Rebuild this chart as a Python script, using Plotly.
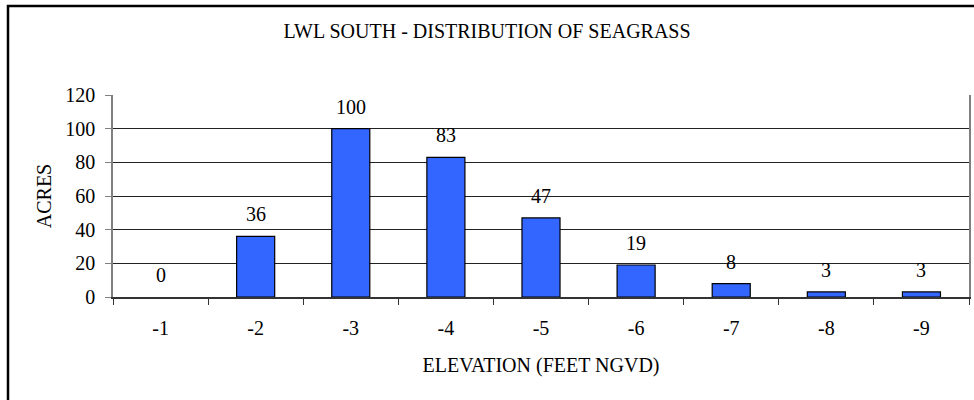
import plotly.graph_objects as go

# Seagrass acreage by elevation band
elevations = ["-1", "-2", "-3", "-4", "-5", "-6", "-7", "-8", "-9"]
acres = [0, 36, 100, 83, 47, 19, 8, 3, 3]
y_ticks = [0, 20, 40, 60, 80, 100, 120]

SERIF = "Liberation Serif, Times New Roman, serif"
FS = 20

fig = go.Figure()
fig.add_trace(go.Bar(
    x=elevations,
    y=acres,
    marker=dict(color="#3366FF",
                line=dict(color="black", width=[0 if v == 0 else 1.2 for v in acres])),
    width=0.4,
    showlegend=False,
))

# value labels sit a little above each bar, as in the Excel original
# (category axis -> annotation x given as the category index)
for i, v in enumerate(acres):
    fig.add_annotation(x=i, y=v, text=str(v), showarrow=False,
                       yanchor="bottom", yshift=9,
                       font=dict(family=SERIF, size=FS, color="black"))

fig.update_layout(
    width=974, height=400,
    margin=dict(l=113, r=5, t=95, b=103, autoexpand=False),
    paper_bgcolor="white", plot_bgcolor="white",
    font=dict(family=SERIF, size=FS, color="black"),
    title=dict(text="LWL SOUTH - DISTRIBUTION OF SEAGRASS",
               x=0.5, xref="container", xanchor="center",
               y=1 - 31 / 400, yref="container", yanchor="middle",
               font=dict(family=SERIF, size=FS)),
)

fig.update_xaxes(
    type="category", categoryorder="array", categoryarray=elevations,
    automargin=False,
    tickson="boundaries", ticks="outside", ticklen=6, tickcolor="#333",
    showline=True, linecolor="#333", linewidth=1.5,
    showgrid=False,
    tickfont=dict(family=SERIF, size=FS),
    title=dict(text="ELEVATION (FEET NGVD)", standoff=20,
               font=dict(family=SERIF, size=FS)),
    ticklabelstandoff=12,
)
fig.update_yaxes(
    range=[0, 120], tickvals=y_ticks, automargin=False,
    ticks="outside", ticklen=6, tickcolor="#808080",
    showline=True, linecolor="#808080", linewidth=1.5, mirror=True,
    showgrid=True, gridcolor="#222", gridwidth=1,
    zeroline=False,
    tickfont=dict(family=SERIF, size=FS),
    ticklabelstandoff=6,
    title=dict(text="ACRES", standoff=8, font=dict(family=SERIF, size=FS)),
)

# outer chart border (right and bottom edges fall outside the window)
fig.add_shape(type="rect", xref="paper", yref="paper",
              x0=(8 - 113) / 856, x1=1.2, y0=-0.8, y1=(297 - 6) / 202,
              line=dict(color="black", width=2.5), layer="above")

# drop the browser's default 8px body margin so the chart sits at (0, 0)
fig.write_html("out.html", config={"displayModeBar": False},
               post_script="document.body.style.margin='0';")
